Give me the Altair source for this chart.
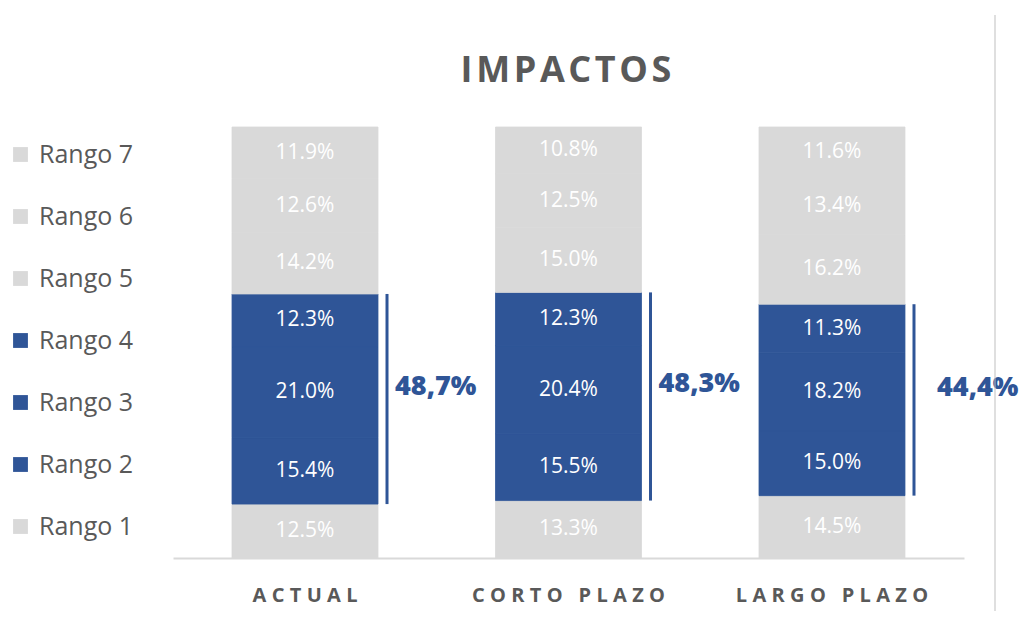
import altair as alt
import pandas as pd

categories = ["ACTUAL", "CORTO PLAZO", "LARGO PLAZO"]
rangos = ["Rango 1", "Rango 2", "Rango 3", "Rango 4", "Rango 5", "Rango 6", "Rango 7"]
actual = [12.5, 15.4, 21.0, 12.3, 14.2, 12.6, 11.9]
corto = [13.3, 15.5, 20.4, 12.3, 15.0, 12.5, 10.8]
largo = [14.5, 15.0, 18.2, 11.3, 16.2, 13.4, 11.6]
bracket_totals = [48.7, 48.3, 44.4]
title_text = "IMPACTOS"

GRAY = "#d9d9d9"
BLUE = "#2f5597"
TXT = "#595959"
FONT = "Open Sans"

rows = []
for cat, vals in zip(categories, [actual, corto, largo]):
    for i, (r, v) in enumerate(zip(rangos, vals)):
        rows.append({"cat": cat, "rango": r, "order": i + 1, "value": v})
df = pd.DataFrame(rows)
bdf = pd.DataFrame({"cat": categories, "total": bracket_totals})

color_domain = list(reversed(rangos))
color_range = [GRAY, GRAY, GRAY, BLUE, BLUE, BLUE, GRAY]
cscale = alt.Scale(domain=color_domain, range=color_range)

xenc = alt.X(
    "cat:N", sort=categories,
    scale=alt.Scale(paddingInner=0.446, paddingOuter=0.224),
    axis=alt.Axis(
        title=None, labelAngle=0, ticks=False, grid=False,
        domainColor=GRAY, domainWidth=2,
        labelFont=FONT, labelFontSize=20, labelFontWeight="bold",
        labelColor=TXT, labelPadding=27, labelLimit=0,
        labelExpr="join(split(datum.label, ''), '\u2009\u200a')",
    ),
)
yscale = alt.Scale(domain=[0, 1], nice=False)

base = alt.Chart(df).transform_stack(
    stack="value", groupby=["cat"], as_=["y0", "y1"], offset="normalize",
    sort=[alt.SortField("order", "ascending")],
).transform_calculate(
    mid="(datum.y0 + datum.y1) / 2",
    lbl="format(datum.value, '.1f') + '%'",
)

bars = base.mark_bar(strokeWidth=0.8).encode(
    x=xenc,
    y=alt.Y("y0:Q", scale=yscale, axis=None),
    y2="y1:Q",
    stroke=alt.Stroke("rango:N", scale=cscale, legend=None),
    color=alt.Color(
        "rango:N",
        scale=cscale,
        legend=alt.Legend(
            title=None, orient="none", legendX=-165, legendY=15,
            symbolType="square", symbolSize=220, symbolStrokeWidth=0,
            labelFont=FONT, labelFontSize=25, labelColor=TXT,
            rowPadding=36, labelOffset=6, padding=0,
        ),
    ),
)

texts = base.mark_text(color="white", fontSize=21, font=FONT).encode(
    x=alt.X("cat:N", sort=categories),
    y=alt.Y("mid:Q", scale=yscale),
    text="lbl:N",
)

bracket = base.transform_filter(
    "datum.order >= 2 && datum.order <= 4"
).transform_aggregate(
    lo="min(y0)", hi="max(y1)", groupby=["cat"]
).transform_lookup(
    lookup="cat", from_=alt.LookupData(data=bdf, key="cat", fields=["total"])
).transform_calculate(
    bmid="(datum.lo + datum.hi) / 2",
    blbl="replace(format(datum.total, '.1f'), '.', ',') + '%'",
)

rule = bracket.mark_rule(xOffset=82, strokeWidth=3, color=BLUE).encode(
    x=alt.X("cat:N", sort=categories),
    y=alt.Y("lo:Q", scale=yscale),
    y2="hi:Q",
)

label_dx = {"ACTUAL": 90, "CORTO PLAZO": 90, "LARGO PLAZO": 105}
blabels = []
for cat in categories:
    blabels.append(
        bracket.transform_filter(alt.datum.cat == cat).mark_text(
            align="left", dx=label_dx[cat], dy=-12, color=BLUE,
            fontSize=27, fontWeight=800, font=FONT,
        ).encode(
            x=alt.X("cat:N", sort=categories),
            y=alt.Y("bmid:Q", scale=yscale),
            text="blbl:N",
        )
    )

one = pd.DataFrame({"t": [title_text]})
border = alt.Chart(one).mark_rule(
    color="#bfbfbf", strokeWidth=1
).encode(x=alt.value(822), y=alt.value(-112), y2=alt.value(492))

title = alt.Chart(one).transform_calculate(
    tt="join(split(datum.t, ''), '\u200a')"
).mark_text(
    fontSize=36, fontWeight="bold", color=TXT, font=FONT, baseline="middle"
).encode(x=alt.value(393), y=alt.value(-56), text="tt:N")

chart = alt.layer(bars, texts, rule, *blabels, border, title).properties(
    width=791, height=431,
    autosize=alt.AutoSizeParams(type="none"),
    padding={"left": 165, "top": 119, "right": 55, "bottom": 53},
).configure_view(stroke=None)

chart.save("out.html", embed_options={"renderer": "svg", "actions": False})
